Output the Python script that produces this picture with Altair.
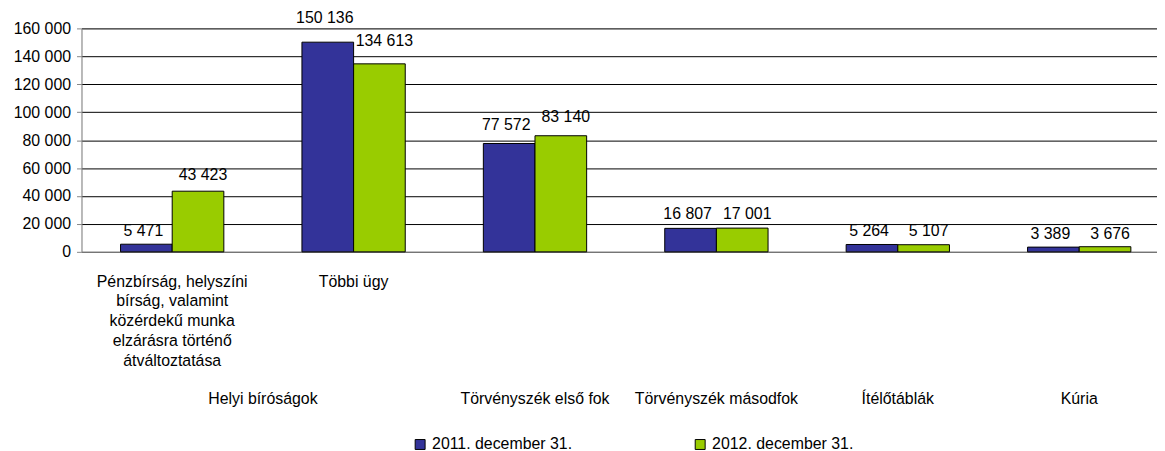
import altair as alt
import pandas as pd

categories = ["Pénzbírság", "Többi ügy", "Törvényszék első fok",
              "Törvényszék másodfok", "Ítélőtáblák", "Kúria"]
sub_labels = ["Pénzbírság, helyszíni\nbírság, valamint\nközérdekű munka\nelzárásra történő\nátváltoztatása",
              "Többi ügy"]
sub_label_cats = ["Pénzbírság", "Többi ügy"]
span_label = "Helyi bíróságok"
span_label_cat = "Többi ügy"
group_labels = ["Törvényszék első fok", "Törvényszék másodfok", "Ítélőtáblák", "Kúria"]
group_label_cats = ["Törvényszék első fok", "Törvényszék másodfok", "Ítélőtáblák", "Kúria"]
series = ["2011. december 31.", "2012. december 31."]
values_2011 = [5471, 150136, 77572, 16807, 5264, 3389]
values_2012 = [43423, 134613, 83140, 17001, 5107, 3676]
y_ticks = [0, 20000, 40000, 60000, 80000, 100000, 120000, 140000, 160000]
colors = ["#333399", "#99CC00"]

FONT = "Liberation Sans"
FS = 16
W, H = 1083, 225

def fmt(v):
    return f"{v:,}".replace(",", " ")

rows = []
for s, vals in zip(series, [values_2011, values_2012]):
    for c, v in zip(categories, vals):
        rows.append({"cat": c, "series": s, "value": v, "label": fmt(v)})
bars_df = pd.DataFrame(rows)

x_scale = alt.Scale(domain=categories, range=[0, 1096], paddingInner=0, paddingOuter=0)
xo_scale = alt.Scale(domain=series, paddingInner=0, paddingOuter=0.756)

y_axis = alt.Axis(values=y_ticks, title=None, grid=True, gridColor="#000000",
                  gridWidth=1, domainColor="#868686", tickColor="#868686",
                  tickSize=5, labelPadding=6, labelFont=FONT, labelFontSize=FS,
                  labelColor="#000000", labelOverlap=False, tickCount=9,
                  labelExpr="replace(format(datum.value, ','), ',', ' ')")

base = alt.Chart(bars_df).encode(
    x=alt.X("cat:N", sort=categories, scale=x_scale,
            axis=alt.Axis(labels=False, ticks=False, title=None, domain=True,
                          domainColor="#868686", domainWidth=1, grid=False)),
    xOffset=alt.XOffset("series:N", scale=xo_scale, sort=series),
)

bars = base.mark_bar(stroke="#000000", strokeWidth=1).encode(
    y=alt.Y("value:Q", scale=alt.Scale(domain=[0, 160000], nice=False), axis=y_axis),
    color=alt.Color("series:N", sort=series,
                    scale=alt.Scale(domain=series, range=colors),
                    legend=alt.Legend(title=None, orient="none", legendX=333, legendY=411,
                                      direction="horizontal", columnPadding=120,
                                      symbolType="square", symbolSize=100,
                                      symbolStrokeColor="#000000", symbolStrokeWidth=1,
                                      labelFont=FONT, labelFontSize=FS, labelColor="#000000",
                                      labelOffset=4)),
)

label_scale = alt.Scale(domain=[0, 160000], range=[H - 5, H - 5 - 236.6], nice=False)

def value_text(s, dx):
    return base.transform_filter(alt.datum.series == s).mark_text(
        baseline="bottom", dx=dx, font=FONT, fontSize=FS, color="#000000"
    ).encode(
        y=alt.Y("value:Q", scale=label_scale, axis=None),
        text="label:N",
    )

texts = alt.layer(value_text(series[0], -3), value_text(series[1], 5))

sub_df = pd.DataFrame({"cat": sub_label_cats, "txt": sub_labels})
sub_text = alt.Chart(sub_df).mark_text(
    baseline="top", align="center", lineBreak="\n", lineHeight=20,
    font=FONT, fontSize=FS, color="#000000"
).encode(
    x=alt.X("cat:N", scale=x_scale, sort=categories),
    y=alt.value(H + 22),
    text="txt:N",
)

span_df = pd.DataFrame({"cat": [span_label_cat], "txt": [span_label]})
span_text = alt.Chart(span_df).mark_text(
    baseline="middle", align="center", font=FONT, fontSize=FS, color="#000000"
).encode(
    x=alt.X("cat:N", scale=x_scale, sort=categories, bandPosition=0),
    y=alt.value(H + 148),
    text="txt:N",
)

grp_df = pd.DataFrame({"cat": group_label_cats, "txt": group_labels})
grp_text = alt.Chart(grp_df).mark_text(
    baseline="middle", align="center", font=FONT, fontSize=FS, color="#000000"
).encode(
    x=alt.X("cat:N", scale=x_scale, sort=categories),
    y=alt.value(H + 148),
    text="txt:N",
)

chart = alt.layer(bars, texts, sub_text, span_text, grp_text).resolve_scale(
    y="independent"
).properties(
    width=W, height=H,
    autosize=alt.AutoSizeParams(type="none"),
    padding={"left": 74, "top": 19, "right": 0, "bottom": 199},
).configure_view(stroke=None).configure(background="#ffffff")

chart.save("out.html", embed_options={"renderer": "svg", "actions": False})
